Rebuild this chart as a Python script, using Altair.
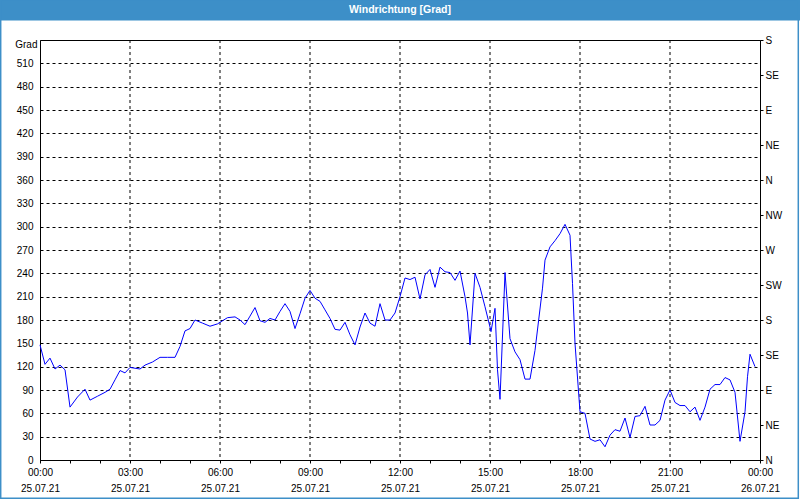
import json
import altair as alt
import pandas as pd

# ---------------- data ----------------
chart_title = "Windrichtung [Grad]"
y_title = "Grad"

times = ["00:00","00:10","00:20","00:30","00:40","00:50","01:00","01:15","01:30","01:40",
         "01:55","02:10","02:20","02:30","02:40","02:50","03:00","03:20","03:30","03:45",
         "04:00","04:15","04:30","04:40","04:50","05:00","05:10","05:25","05:40","05:55",
         "06:05","06:15","06:30","06:40","06:50","07:00","07:10","07:20","07:30","07:40",
         "07:50","08:00","08:10","08:20","08:30","08:40","08:50","09:00","09:10","09:20",
         "09:30","09:40","09:50","10:00","10:10","10:20","10:30","10:40","10:50","11:00",
         "11:10","11:20","11:30","11:40","11:50","12:00","12:10","12:20","12:30","12:40",
         "12:50","13:00","13:10","13:20","13:30","13:40","13:50","14:00","14:10","14:15",
         "14:20","14:30","14:40","14:50","15:00","15:02","15:10","15:15","15:20","15:30",
         "15:40","15:50","16:00","16:10","16:20","16:30","16:45","16:50","17:00","17:10",
         "17:20","17:30","17:40","17:45","17:50","18:00","18:10","18:20","18:30","18:40",
         "18:50","19:00","19:10","19:20","19:30","19:40","19:50","20:00","20:10","20:20",
         "20:30","20:40","20:50","21:00","21:10","21:20","21:30","21:40","21:50","22:00",
         "22:10","22:20","22:30","22:40","22:50","23:00","23:10","23:20","23:30","23:35",
         "23:40","23:50"]
degrees = [148,123,131,117,122,116,68,81,91,77,
           82,87,91,103,115,112,119,117,122,126,
           132,132,132,146,166,169,180,176,172,175,
           179,183,184,180,174,185,196,179,177,182,
           180,191,201,191,169,188,208,218,208,204,
           193,182,168,167,177,161,148,171,189,176,
           172,201,180,180,189,210,234,232,235,207,
           238,245,222,248,242,241,231,243,210,189,
           148,240,222,197,171,165,195,116,78,241,
           156,139,129,104,104,141,221,257,274,282,
           291,303,289,227,150,62,60,27,24,26,
           17,32,39,37,54,29,56,57,69,45,
           45,51,77,90,74,70,70,62,68,51,
           68,91,97,97,106,103,87,24,62,107,
           136,120]

hour_ticks = list(range(0, 25))
grid_hours = [3, 6, 9, 12, 15, 18, 21]
time_labels = ["00:00","03:00","06:00","09:00","12:00","15:00","18:00","21:00","00:00"]
date_labels = ["25.07.21"] * 8 + ["26.07.21"]
y_ticks = list(range(0, 511, 30))
compass_degrees = list(range(0, 541, 45))
compass_labels = ["N","NE","E","SE","S","SW","W","NW","N","NE","E","SE","S"]

# ---------------- tables ----------------
df = pd.DataFrame({"time": times, "deg": degrees})
df["hour"] = [int(t[:2]) + int(t[3:]) / 60 for t in times]
grid_df = pd.DataFrame({"hour": grid_hours})
compass_df = pd.DataFrame({"deg": compass_degrees})
title_df = pd.DataFrame({"t": [chart_title]})

FONT = "Liberation Sans"
BLUE = "#3d8fc8"
x_scale = alt.Scale(domain=[0, 24], nice=False, zero=False)
y_scale = alt.Scale(domain=[0, 540], nice=False, zero=True)

x_label_expr = (f"datum.value % 3 == 0 ? [{json.dumps(time_labels)}[round(datum.value/3)], "
                f"{json.dumps(date_labels)}[round(datum.value/3)]] : ''")
x_axis = alt.Axis(values=hour_ticks, labelExpr=x_label_expr, grid=False, ticks=True,
                  tickSize=3, tickColor="black", domainColor="black", labelPadding=4,
                  labelLineHeight=16, labelColor="black", labelFont=FONT, labelFontSize=10,
                  title=None, labelFlush=False, labelOverlap=False)

vgrid = alt.Chart(grid_df).mark_rule(color="black", strokeDash=[3, 3], strokeWidth=1).encode(
    x=alt.X("hour:Q", scale=x_scale, axis=x_axis)
)

line = alt.Chart(df).mark_line(color="#0000ff", strokeWidth=1).encode(
    x=alt.X("hour:Q", scale=x_scale, axis=x_axis),
    y=alt.Y("deg:Q", scale=y_scale,
            axis=alt.Axis(values=y_ticks, grid=True, gridDash=[3, 3], gridColor="black",
                          gridOpacity=1, ticks=False, labelPadding=7, domainColor="black",
                          labelColor="black", labelFont=FONT, labelFontSize=10,
                          title=y_title, titleAngle=0, titleX=-3, titleY=4,
                          titleAlign="right", titleBaseline="middle",
                          titleFontWeight="normal", titleFont=FONT, titleFontSize=10,
                          titleColor="black")),
)

compass_expr = f"{json.dumps(compass_labels)}[round(datum.value/45)]"
right_axis = alt.Chart(compass_df).mark_point(opacity=0).encode(
    y=alt.Y("deg:Q", scale=y_scale,
            axis=alt.Axis(orient="right", values=compass_degrees, labelExpr=compass_expr,
                          grid=False, ticks=True, tickSize=3, tickColor="black",
                          domainColor="black", labelPadding=2, labelColor="black",
                          labelFont=FONT, labelFontSize=10, title=None)),
)

title_bar = alt.Chart(title_df).mark_rect(color=BLUE).encode(
    x=alt.value(-40), x2=alt.value(760), y=alt.value(-40), y2=alt.value(-19.5)
)
title_text = alt.Chart(title_df).mark_text(
    color="white", font=FONT, fontSize=10.5, fontWeight="bold", baseline="middle", align="center"
).encode(x=alt.value(360), y=alt.value(-30.5), text="t:N")
frame = alt.Chart(title_df).mark_rect(fill=None, stroke=BLUE, strokeWidth=1.5).encode(
    x=alt.value(-39.3), x2=alt.value(758.3), y=alt.value(-40), y2=alt.value(458.3)
)

chart = alt.layer(vgrid, line, right_axis, title_bar, title_text, frame).resolve_scale(
    y="independent"
).properties(
    width=720, height=420,
    autosize=alt.AutoSizeParams(type="none"),
    padding={"left": 40, "top": 40, "right": 40, "bottom": 40},
    background="white",
).configure_view(stroke="black", strokeWidth=1)

chart.save("out.html", embed_options={"renderer": "svg", "actions": False})
